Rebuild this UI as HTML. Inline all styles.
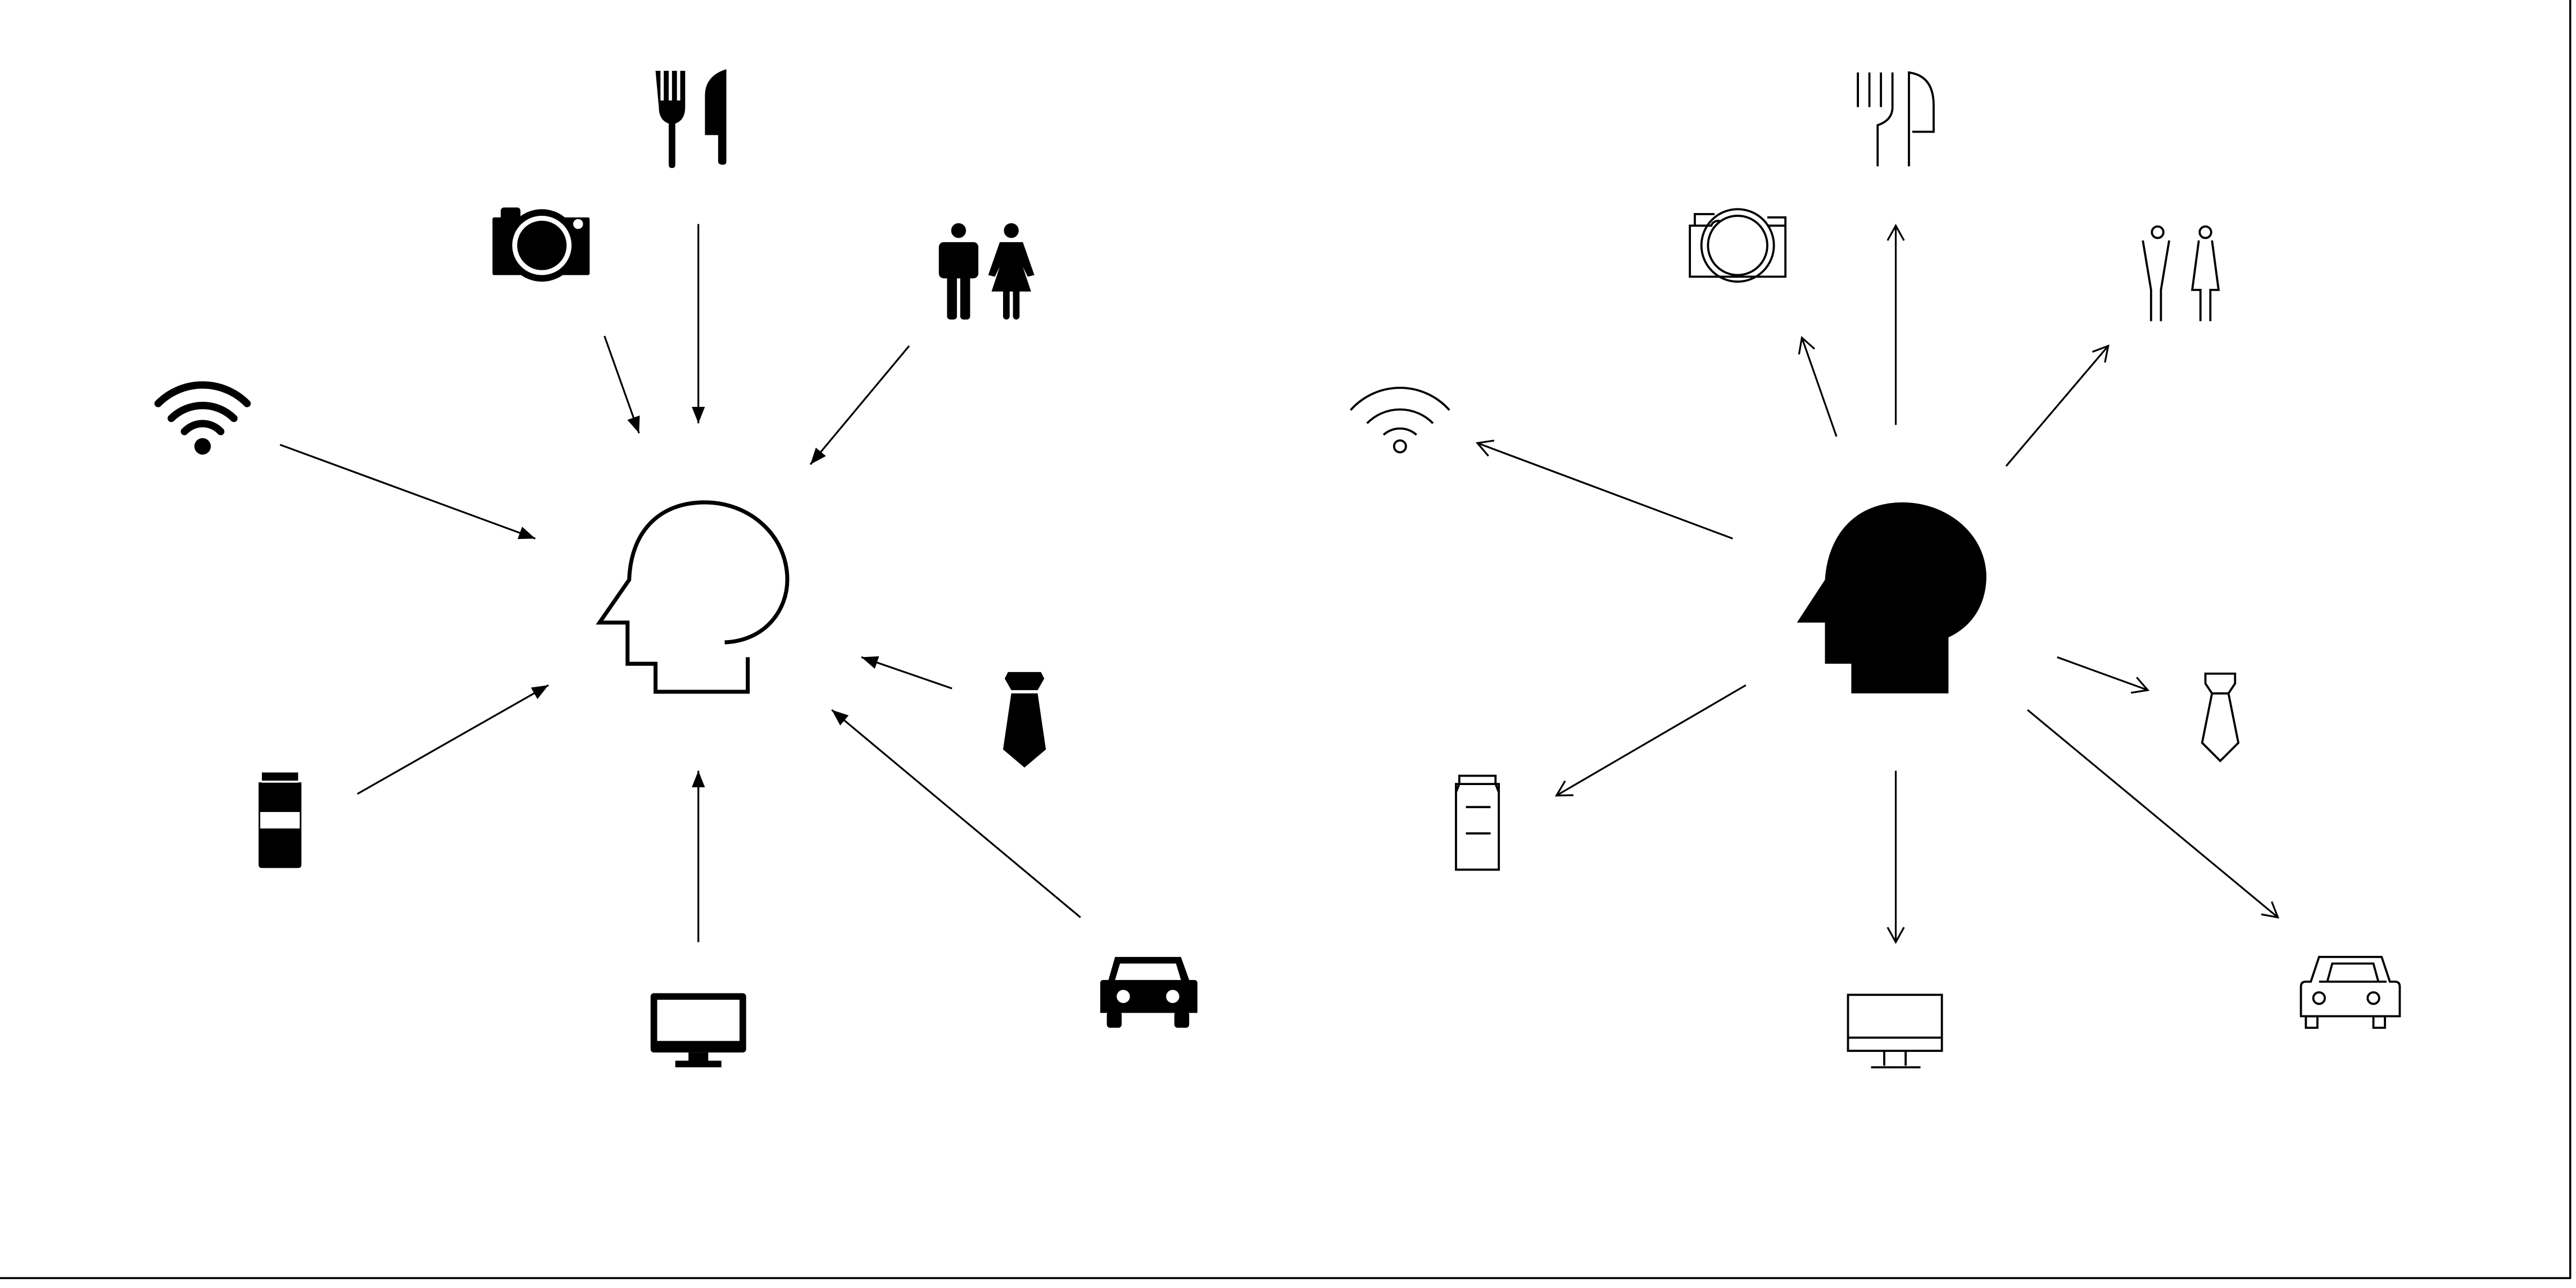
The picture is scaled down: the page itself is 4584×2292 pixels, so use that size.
<!DOCTYPE html>
<html><head><meta charset="utf-8"><style>
html,body{margin:0;padding:0;background:#fff;}
svg{display:block;}
</style></head><body>
<svg width="4584" height="2292" viewBox="0 0 1564 782" xmlns="http://www.w3.org/2000/svg">
<defs>
<marker id="fa" markerWidth="10" markerHeight="8" refX="10" refY="4" orient="auto" markerUnits="userSpaceOnUse"><path d="M0,0 L10,4 L0,8 Z" fill="#000"/></marker>
<marker id="oa" markerWidth="12" markerHeight="12" refX="10" refY="6" orient="auto" markerUnits="userSpaceOnUse"><path d="M1,1 L10,6 L1,11" fill="none" stroke="#000" stroke-width="1.1"/></marker>
</defs>
<rect width="1564" height="782" fill="#fff"/>
<line x1="0" y1="776" x2="1561" y2="776" stroke="#000" stroke-width="1.2"/>
<line x1="1560.5" y1="0" x2="1560.5" y2="776" stroke="#000" stroke-width="1.2"/>

<!-- LEFT -->
<path d="M440,390 C465,389 478,370 478,352 C478,325 455,305 428,305 C400,305 383,323 382,352 L364,378 L381,378 L381,403 L398,403 L398,420 L454,420 L454,399" fill="none" stroke="#000" stroke-width="2.4"/>
<g stroke="#000" stroke-width="1.1" marker-end="url(#fa)">
<line x1="170" y1="270" x2="325" y2="327"/>
<line x1="367" y1="204" x2="388" y2="263"/>
<line x1="424" y1="136" x2="424" y2="257"/>
<line x1="552" y1="210" x2="492" y2="282"/>
<line x1="578" y1="418" x2="523" y2="399"/>
<line x1="656" y1="557" x2="505" y2="431"/>
<line x1="424" y1="572" x2="424" y2="468"/>
<line x1="217" y1="482" x2="333" y2="416"/>
</g>
<g fill="#000">
<path d="M398,43 h3 v18 h2 v-18 h3 v18 h2 v-18 h3 v18 h2 v-18 h3 v22 q0,8 -6,10 v25 q0,2 -2,2 q-2,0 -2,-2 v-25 q-6,-2 -6,-10 Z"/>
<path d="M428,58 q0,-12 13,-16 v56 q0,2 -2,2 q-3,0 -3,-2 v-16 h-8 Z"/>
</g>
<g>
<rect x="304" y="126" width="12" height="8" rx="2" fill="#000"/>
<rect x="299" y="132" width="59" height="35" rx="1" fill="#000"/>
<circle cx="329" cy="149" r="22" fill="#000"/>
<circle cx="329" cy="149" r="18" fill="#fff"/>
<circle cx="329" cy="149" r="15" fill="#000"/>
<circle cx="351" cy="136" r="3" fill="#fff"/>
</g>
<g fill="#000">
<circle cx="582" cy="140" r="4.5"/>
<rect x="570" y="147" width="24" height="22" rx="3"/>
<rect x="575" y="160" width="6" height="34" rx="2"/>
<rect x="583" y="160" width="6" height="34" rx="2"/>
<circle cx="614" cy="140" r="4.5"/>
<path d="M607,147 h14 l7,20 l-4,1 l-3,-6 l5,15 h-24 l5,-15 l-3,6 l-4,-1 Z"/>
<rect x="609" y="175" width="4" height="19" rx="2"/>
<rect x="615" y="175" width="4" height="19" rx="2"/>
</g>
<g fill="none" stroke="#000" stroke-width="4.5" stroke-linecap="round">
<path d="M96,245 A38,38 0 0 1 150,245"/>
<path d="M104,254 A27,27 0 0 1 142,254"/>
<path d="M112,262 A15,15 0 0 1 134,262"/>
</g>
<circle cx="123" cy="271" r="5" fill="#000"/>
<rect x="159" y="469" width="22" height="5" fill="#000"/>
<path d="M157,475 L183,475 L183,525 Q183,527 181,527 L159,527 Q157,527 157,525 Z" fill="#000"/>
<rect x="159" y="474" width="22" height="1.2" fill="#fff"/>
<rect x="158" y="493" width="24" height="10" fill="#fff"/>
<path d="M612,408 h20 l2,4 l-4,7 h-16 l-4,-7 Z" fill="#000"/>
<path d="M614,421 h16 l5,34 l-13,11 l-13,-11 Z" fill="#000"/>
<rect x="395" y="603" width="58" height="36" rx="2" fill="#000"/>
<rect x="399" y="607" width="50" height="25" fill="#fff"/>
<rect x="418" y="639" width="12" height="6" fill="#000"/>
<rect x="410" y="644" width="28" height="4" fill="#000"/>
<path d="M677,581 h40 l5,14 h3 q2,0 2,2 v18 h-59 v-18 q0,-2 2,-2 h3 Z" fill="#000"/>
<path d="M680,585 h34 l3,10 h-40 Z" fill="#fff"/>
<circle cx="682" cy="605" r="4" fill="#fff"/>
<circle cx="712" cy="605" r="4" fill="#fff"/>
<rect x="672" y="614" width="9" height="10" rx="2" fill="#000"/>
<rect x="713" y="614" width="9" height="10" rx="2" fill="#000"/>

<!-- RIGHT -->
<path d="M1124,421 L1183,421 L1183,387 C1200,379 1206,364 1206,350 C1206,325 1183,305 1155,305 C1128,305 1110,323 1108,352 L1091,378 L1108,378 L1108,403 L1124,403 Z" fill="#000"/>
<g stroke="#000" stroke-width="1.1" marker-end="url(#oa)">
<line x1="1052" y1="327" x2="897" y2="269"/>
<line x1="1115" y1="265" x2="1094" y2="205"/>
<line x1="1151" y1="258" x2="1151" y2="137"/>
<line x1="1218" y1="283" x2="1280" y2="210"/>
<line x1="1249" y1="399" x2="1304" y2="419"/>
<line x1="1231" y1="431" x2="1383" y2="557"/>
<line x1="1151" y1="468" x2="1151" y2="572"/>
<line x1="1060" y1="416" x2="945" y2="483"/>
</g>
<g fill="none" stroke="#000" stroke-width="1.3">
<!-- fork knife outline -->
<path d="M1128,44 v21 M1135,44 v21 M1142,44 v21 M1149,44 v21 q0,8 -9,11 v25"/>
<path d="M1159,101 v-57 q15,2 15,20 v16 h-13"/>
<!-- camera outline -->
<path d="M1029,137 v-7 h12 M1044,134 q-4,0 -5,3 h-13 v31 h58 v-31 h-11 M1073,132 h11 v5"/>
<circle cx="1055" cy="149" r="22"/>
<circle cx="1055" cy="149" r="18"/>
<!-- people outline -->
<circle cx="1310" cy="141" r="3.5"/>
<path d="M1301,146 l5,30 v19 M1317,146 l-5,30 v19"/>
<circle cx="1339" cy="141" r="3.5"/>
<path d="M1335,146 l-4,30 h5 v19 M1343,146 l4,30 h-5 v19"/>
<!-- wifi outline -->
<path d="M820,249 A40,40 0 0 1 880,249"/>
<path d="M830,257 A28,28 0 0 1 870,257"/>
<path d="M840,264 A15,15 0 0 1 860,264"/>
<circle cx="850" cy="271" r="3.6"/>
<!-- milk outline -->
<path d="M886,471 h22 v5 h-22 Z M884,476 h26 v52 h-26 Z M886,476 l-2,5 M908,476 l2,5 M890,490 h15 M890,506 h15"/>
<!-- tie outline -->
<path d="M1339,409 h18 v6 l-4,6 h-10 l-4,-6 Z M1343,421 l-6,30 l11,11 l11,-11 l-6,-30"/>
<!-- monitor outline -->
<rect x="1122" y="604" width="57" height="34"/>
<path d="M1122,630 h57 M1144,638 v9 M1157,638 v9 M1136,648 h30"/>
<!-- car outline -->
<path d="M1397,617 v-18 q0,-3 3,-3 h3 l5,-15 h38 l5,15 h3 q3,0 3,3 v18 Z M1408,596 h41 M1413,596 l3,-11 h25 l3,11"/>
<circle cx="1408" cy="606" r="3.5"/>
<circle cx="1441" cy="606" r="3.5"/>
<rect x="1400" y="617" width="7" height="7"/>
<rect x="1441" y="617" width="7" height="7"/>
</g>
</svg>
</body></html>
